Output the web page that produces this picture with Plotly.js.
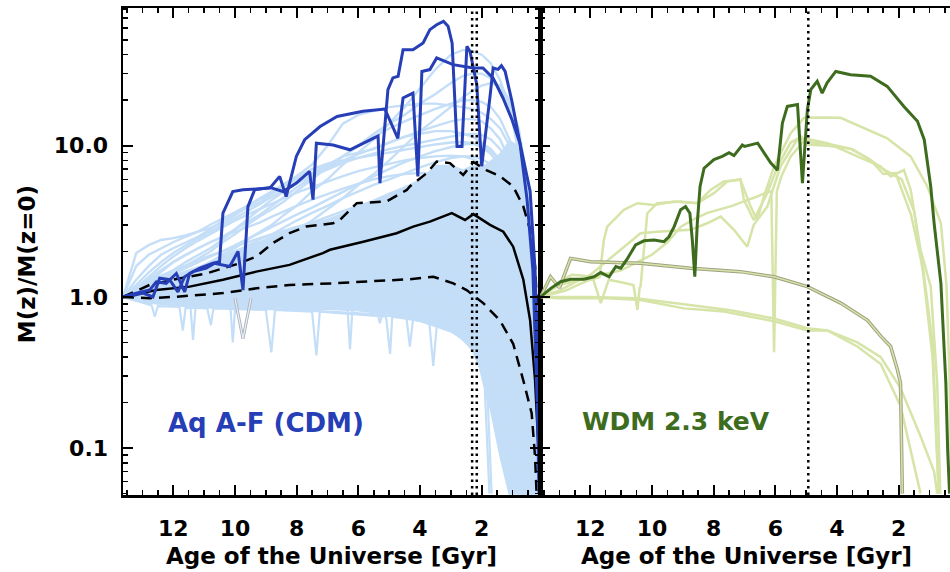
<!DOCTYPE html>
<html><head><meta charset="utf-8">
<script src="https://cdn.plot.ly/plotly-3.0.1.min.js"></script>
<style>html,body{margin:0;padding:0;background:#fff}</style>
</head><body>
<div id="chart" style="width:950px;height:572px"></div>
<script>
// ---------- CDM panel (Aq A-F) ----------
const AGE = [13.63,13.2,12.8,12.4,12.0,11.6,11.2,10.8,10.4,10.0,9.6,9.2,8.8,8.4,8.0,7.5,7.0,6.5,6.0,5.5,5.0,4.5,4.0,3.5,3.0,2.6,2.3,2.0,1.7,1.4,1.1,0.8,0.5,0.3,0.11];
const BAND_UP = [1.0,1.12,1.2,1.3,1.4,1.5,1.6,1.7,1.85,2.0,2.15,2.3,2.5,2.7,2.9,3.1,3.3,3.6,4.0,4.4,4.9,5.4,6.0,7.5,7.5,7.0,7.5,7.2,8.0,9.0,11.0,10.0,5.0,1.5,0.05];
const BAND_LO = [1.0,0.93,0.9,0.88,0.87,0.86,0.86,0.85,0.85,0.85,0.84,0.84,0.84,0.83,0.83,0.82,0.82,0.81,0.8,0.78,0.76,0.72,0.68,0.63,0.58,0.52,0.45,0.33,0.18,0.09,0.05,0.05,0.05,0.05,0.05];
const CDM_LIGHT = [
  [1.0,1.05,1.1,1.2,1.3,1.4,1.55,1.7,1.9,2.1,2.4,2.7,3.0,3.5,4.0,5.0,6.0,7.5,9,11,14,18,24,32,40,43,42,40,35,27,18,9,3,0.5,0.05],
  [1.0,1.05,1.15,1.3,1.45,1.6,1.8,2.0,2.3,2.6,3.0,3.4,3.8,4.3,5.0,6.0,7.2,8.5,10,12,14,16,19,22,26,29,30,30,28,24,19,12,5,1.2,0.05],
  [1.0,1.1,1.25,1.45,1.7,1.9,2.1,2.3,2.5,2.8,3.1,3.5,4.0,4.6,5.3,6.2,7.3,8.6,10,11.5,13,14.5,16,17.5,19,20,20,19.5,18,15,11,6.5,2.5,0.6,0.05],
  [1.0,1.95,2.2,2.38,2.45,2.55,2.7,2.85,3.1,3.5,3.9,4.2,4.8,5.4,6.0,6.6,7.5,8.5,9.0,9.5,10.5,11.5,12,12.5,12.5,12,11.5,10.5,9.5,8,6,4,1.8,0.5,0.05],
  [1.0,1.3,1.6,1.9,2.1,2.3,2.5,2.8,3.2,3.6,4.0,4.5,5.0,5.6,6.3,7.5,10,14,16,17,18,18.5,19,19,18.5,18,17.5,16.5,15,13,10,6,2.5,0.7,0.05],
  [1.0,1.05,1.1,1.2,1.3,1.4,1.5,1.65,1.8,2.0,2.2,2.4,2.6,2.9,3.2,3.6,4.0,4.5,5.0,5.5,6.0,6.6,7.2,7.8,8.3,8.5,8.5,8.2,7.5,6.5,5.0,3.2,1.5,0.4,0.05],
  [1.0,1.08,1.15,1.25,1.35,1.45,1.55,1.7,1.85,2.0,2.15,2.3,2.5,2.7,2.9,3.1,3.4,3.7,4.0,4.3,4.6,4.9,5.2,5.4,5.5,5.4,5.2,4.8,4.2,3.5,2.6,1.6,0.7,0.2,0.05],
  [1.0,1.02,1.05,1.08,1.1,1.12,1.15,1.18,1.2,1.22,1.25,1.28,1.3,1.32,1.35,1.38,1.4,1.42,1.45,1.47,1.5,1.5,1.5,1.48,1.4,1.3,1.2,1.0,0.75,0.5,0.3,0.15,0.07,0.05,0.05],
  [1.0,0.95,0.92,0.9,0.88,0.87,0.86,0.85,0.85,0.84,0.84,0.83,0.83,0.82,0.82,0.81,0.8,0.79,0.78,0.77,0.75,0.73,0.7,0.66,0.6,0.52,0.45,0.32,0.18,0.09,0.05,0.05,0.05,0.05,0.05],
  [1.0,1.1,1.2,1.35,1.5,1.7,1.9,2.1,2.4,2.8,3.3,3.8,4.4,5.0,5.6,6.4,7.2,8.0,8.8,9.6,10.5,11.5,12.5,13.5,14.5,15,15,14.5,13,11,8,5,2,0.5,0.05],
  [1.0,1.08,1.18,1.3,1.42,1.55,1.7,1.85,2.0,2.2,2.4,2.65,2.9,3.2,3.5,3.9,4.4,5.0,5.6,6.3,7.0,7.8,8.5,9.2,9.8,10.2,10.3,10,9.2,8,6,3.8,1.7,0.4,0.05],
  [1.0,1.1,1.3,1.5,1.7,1.9,2.1,2.3,2.5,2.7,2.9,3.1,3.4,3.7,4.0,4.4,4.8,5.2,5.6,6.0,6.3,6.5,6.6,6.5,6.3,6.0,5.7,5.3,4.6,3.8,2.8,1.7,0.8,0.2,0.05],
  [1.0,1.05,1.1,1.15,1.2,1.25,1.3,1.36,1.42,1.5,1.58,1.66,1.75,1.85,1.95,2.05,2.2,2.35,2.5,2.65,2.8,2.95,3.1,3.25,3.4,3.45,3.45,3.3,3.0,2.5,1.9,1.2,0.55,0.15,0.05],
  [1.0,1.02,1.05,1.08,1.1,1.14,1.18,1.22,1.26,1.3,1.35,1.4,1.46,1.52,1.58,1.64,1.7,1.78,1.86,1.95,2.05,2.15,2.25,2.35,2.4,2.4,2.35,2.2,1.9,1.5,1.1,0.65,0.3,0.1,0.05],
  [1.0,0.98,0.99,1.0,1.01,1.02,1.03,1.04,1.05,1.06,1.07,1.08,1.09,1.1,1.11,1.12,1.13,1.14,1.15,1.15,1.15,1.14,1.12,1.08,1.0,0.9,0.8,0.62,0.42,0.25,0.13,0.07,0.05,0.05,0.05],
  [1.0,1.15,1.35,1.6,1.85,2.1,2.35,2.6,2.9,3.2,3.5,3.8,4.1,4.5,4.9,5.3,5.8,6.3,6.8,7.2,7.6,8.0,8.3,8.5,8.6,8.5,8.2,7.6,6.8,5.6,4.2,2.6,1.1,0.3,0.05],
  [1.0,1.12,1.25,1.38,1.5,1.62,1.75,1.88,2.0,2.15,2.3,2.45,2.6,2.75,2.9,3.05,3.2,3.35,3.5,3.65,3.8,3.95,4.1,4.2,4.25,4.2,4.1,3.8,3.3,2.7,2.0,1.2,0.5,0.12,0.05],
  [1.0,1.03,1.07,1.12,1.18,1.25,1.33,1.42,1.52,1.65,1.8,2.0,2.2,2.5,2.8,3.2,3.8,4.5,5.5,6.5,8,10,12.5,15,18,21,23,25,26,25,20,13,5.5,1.3,0.05],
  [1.0,1.2,1.45,1.7,1.95,2.2,2.45,2.7,3.0,3.3,3.7,4.1,4.6,5.1,5.7,6.3,7.0,7.7,8.3,8.9,9.5,10,10.5,11,11.5,11.8,12,11.8,11,9.5,7.5,5,2.2,0.6,0.05],
  [1.0,1.1,1.2,1.3,1.38,1.46,1.54,1.62,1.7,1.78,1.86,1.94,2.0,2.06,2.12,2.18,2.24,2.3,2.36,2.42,2.48,2.54,2.6,2.65,2.68,2.68,2.65,2.55,2.3,1.9,1.4,0.8,0.35,0.1,0.05],
  [1.0,1.6,1.9,2.1,2.3,2.5,2.7,3.0,3.3,3.6,4.0,4.4,4.9,5.5,6.2,7.0,7.6,8.0,8.3,8.6,9.0,9.4,9.8,10.2,10.5,10.6,10.4,9.8,8.8,7.4,5.5,3.4,1.4,0.35,0.05],
  [1.0,0.97,0.95,0.94,0.93,0.93,0.92,0.92,0.92,0.91,0.91,0.91,0.9,0.9,0.9,0.89,0.89,0.88,0.87,0.86,0.85,0.83,0.8,0.76,0.7,0.62,0.55,0.42,0.27,0.14,0.07,0.05,0.05,0.05,0.05]
];
const S1_AGE = [13.63,12.7,12.6,12.5,11.8,11.69,11.6,10.9,10.78,10.7,9.0,8.82,8.7,7.5,7.36,7.25,5.1,4.97,4.9,3.7,3.57,3.45,2.6,2.3,2.0,1.8,1.68];
const S1 = [1.0,0.88,0.74,0.87,0.86,0.6,0.85,0.84,0.65,0.84,0.82,0.43,0.82,0.8,0.41,0.8,0.74,0.42,0.74,0.68,0.35,0.67,0.58,0.5,0.35,0.2,0.05];
const S2_AGE = [13.63,12.0,11.45,11.36,11.27,10.15,10.07,9.99,8.0,6.35,6.27,6.19,5.4,5.3,5.2,4.45,4.33,4.21,3.0,2.5,2.2,1.9,1.75];
const S2 = [1.0,0.92,0.9,0.52,0.9,0.88,0.5,0.88,0.86,0.84,0.45,0.84,0.8,0.67,0.8,0.76,0.47,0.76,0.7,0.6,0.45,0.25,0.05];
const GRAYV_AGE = [10.0,9.74,9.48];
const GRAYV = [0.98,0.53,0.98];

const MED_AGE = [13.63,12.55,11.47,10.39,9.31,8.23,7.15,6.92,5.84,4.76,4.22,3.68,2.97,2.54,2.27,1.73,1.3,0.98,0.65,0.43,0.27,0.16,0.11];
const MED = [1.0,1.11,1.17,1.3,1.47,1.63,1.95,2.05,2.32,2.64,2.92,3.15,3.58,3.23,3.53,3.0,2.7,2.15,1.3,0.7,0.28,0.1,0.046];
const UP_AGE = [13.63,12.77,12.0,10.93,9.85,9.31,8.77,8.23,7.69,6.82,6.6,6.05,5.08,4.43,4.33,3.78,3.46,3.03,2.6,2.27,1.85,1.41,0.98,0.65,0.43,0.27,0.16,0.11];
const UP = [1.0,1.2,1.3,1.43,1.67,1.85,2.27,2.64,2.92,3.07,3.23,4.17,4.28,5.1,5.38,6.6,7.87,7.68,6.4,7.8,6.9,6.3,5.38,3.96,2.78,1.59,0.6,0.12];
const LO_AGE = [13.63,12.77,12.0,10.39,9.31,8.23,6.82,4.97,4.33,3.57,2.92,2.49,1.95,1.41,0.98,0.65,0.38,0.27,0.22];
const LO = [1.0,0.98,1.0,1.06,1.14,1.2,1.23,1.3,1.31,1.36,1.23,1.11,0.91,0.7,0.49,0.28,0.17,0.087,0.05];

const HALO_U_AGE = [13.63,13.2,12.77,12.55,12.23,11.9,11.63,11.47,11.14,10.71,10.5,10.39,10.07,9.74,9.31,8.87,8.55,8.34,8.01,7.74,7.24,6.69,5.85,5.14,4.72,4.55,4.23,4.07,3.94,3.68,3.46,2.93,2.28,1.96,1.63,1.31,1.02,0.76,0.43,0.27,0.17,0.11];
const HALO_U = [1.0,1.06,1.11,1.26,1.23,1.43,1.08,1.43,1.55,1.67,1.71,3.58,4.98,5.12,5.17,5.24,6.27,4.61,8.5,10.96,13.4,15.6,16.9,17.5,11.2,20.7,22.3,6.26,31,31.9,38.1,34.4,32.7,32.7,28,20.7,14.9,10.4,5,1.5,0.3,0.05];
const HALO_L_AGE = [13.63,13.41,12.98,12.66,12.44,12.12,11.85,11.63,11.36,10.93,10.66,10.17,9.9,9.74,9.58,9.36,8.87,8.44,8.01,7.58,7.47,7.36,6.82,6.27,5.52,5.36,5.3,5.04,4.88,4.71,4.55,4.23,3.9,3.68,3.46,3.24,3.09,2.96,2.8,2.64,2.48,2.38,2.16,2.0,1.73,1.63,1.47,1.36,1.24,1.02,0.76,0.53,0.34,0.2,0.14];
const HALO_L = [1.0,1.01,1.06,1.0,1.33,1.3,1.08,1.36,1.47,1.55,1.67,1.59,2.0,1.11,3.96,5.12,5.3,4.98,5.66,6.77,4.4,10.4,10.1,9.4,11.2,11.6,5.66,23.5,28.1,28.8,43.2,43.2,47.9,58.6,63.2,66.5,61.7,47.9,9.9,9.9,45.5,42,25.4,7.3,21.2,32.7,32,33.8,31,19.7,10.4,4.4,1.5,0.2,0.05];
const DOTTED_CDM = [2.31, 2.16];

// ---------- WDM panel (2.3 keV) ----------
const WDM_DARK_AGE = [13.61,13.28,12.96,12.64,12.2,11.88,11.66,11.39,11.17,11.01,10.79,10.53,10.26,9.93,9.61,9.45,9.28,9.07,8.91,8.77,8.69,8.61,8.53,8.44,8.31,7.99,7.72,7.5,7.34,7.07,7.0,6.57,6.15,5.93,5.77,5.61,5.28,5.12,4.96,4.85,4.64,4.48,4.32,4.04,3.56,2.91,2.37,1.83,1.39,1.17,0.96,0.85,0.63,0.47,0.41,0.35];
const WDM_DARK = [1.0,1.14,1.26,1.31,1.31,1.36,1.45,1.36,1.59,1.55,1.8,2.21,2.35,2.38,2.32,2.5,2.92,3.77,3.96,3.58,2.38,1.36,3.07,5.38,7.1,8.1,8.5,9.0,8.6,10.1,9.9,10.4,7.7,6.9,14.1,18.2,18.7,5.66,17.3,23.5,26.7,22.3,26.1,31,29.5,28.8,24.7,18.2,14.5,10.96,5.38,3.07,1.23,0.27,0.097,0.05];
const WDM_LIGHT_AGE = [
  [13.61,13.2,12.8,12.4,12.0,11.7,11.56,11.45,10.91,10.47,9.93,9.29,8.53,8.1,7.67,7.13,6.8,6.59,6.37,6.04,5.5,5.07,4.5,3.88,3.01,2.37,1.61,1.07,0.63,0.45,0.35,0.3],
  [13.61,13.0,12.5,12.0,11.5,10.91,10.37,9.83,8.75,8.21,7.77,7.34,6.91,6.7,6.26,5.83,5.29,5.07,4.31,3.34,2.59,2.26,1.83,1.61,1.29,0.96,0.75,0.65],
  [13.61,13.2,12.9,12.6,12.2,11.9,11.66,11.4,11.0,10.6,10.47,10.4,10.37,10.15,9.83,9.07,8.53,7.99,7.56,7.13,7.02,6.7,6.26,5.9,5.5,5.15,5.0,4.3,3.5,2.9,2.5,2.1,1.6,1.2,0.9,0.7],
  [13.61,13.0,12.0,11.0,10.0,9.5,9.07,8.6,8.2,7.8,7.4,7.0,6.6,6.3,6.13,6.04,5.95,5.8,5.5,5.2,5.07,4.8,4.3,3.6,3.0,2.5,2.2,1.9,1.5,1.2,0.9,0.7],
  [13.61,13.07,11.45,10.37,8.96,7.67,6.8,6.04,4.96,4.31,3.34,2.58,1.94,1.29],
  [13.61,12.0,10.5,9.0,7.5,6.04,4.96,4.31,3.34,2.58,1.94,1.29,0.85,0.75]
];
const WDM_LIGHT = [
  [1.0,1.05,1.1,1.2,1.3,1.35,2.38,2.92,3.77,4.17,4.06,4.28,4.17,5.1,5.8,5.95,3.96,3.23,4.6,7.3,12.1,15.3,15.4,15.3,12.7,11.2,8.5,5.38,3.07,1.2,0.3,0.05],
  [1.0,1.1,1.25,1.4,1.7,2.15,2.64,2.7,2.78,3.07,3.4,2.78,2.15,3.0,3.96,7.3,10.96,11.2,10.4,8.5,7.3,6.27,6.9,5.1,2.05,1.17,0.27,0.05],
  [1.0,1.15,1.3,1.4,1.38,1.3,0.91,1.3,1.25,1.2,0.82,1.15,1.17,3.58,4.17,4.28,4.17,4.86,5.8,6.0,4.4,3.23,4.86,7.5,10.5,11.5,10.2,10.0,9.5,8.0,6.5,6.6,3.5,1.5,0.5,0.05],
  [1.0,1.2,1.35,1.5,1.9,2.3,2.9,3.3,3.6,3.8,4.0,4.3,4.6,4.9,5.0,0.43,5.0,6.3,8.5,10.0,10.8,10.5,10.3,9.6,8.3,7.0,6.5,6.0,3.7,1.4,0.4,0.05],
  [1.0,0.98,0.98,0.955,0.84,0.8,0.74,0.69,0.6,0.6,0.47,0.36,0.19,0.05],
  [1.0,1.0,0.98,0.9,0.82,0.72,0.62,0.6,0.5,0.4,0.25,0.12,0.07,0.05]
];
const WDM_GRAY_AGE = [13.61,13.29,13.0,12.64,11.99,10.37,8.75,7.13,6.04,4.96,3.88,3.01,2.58,2.26,2.04,1.94,1.88];
const WDM_GRAY = [1.0,1.36,1.15,1.8,1.71,1.67,1.55,1.47,1.36,1.17,0.91,0.7,0.55,0.47,0.33,0.27,0.05];
const DOTTED_WDM = [4.93];

const YTICKS = [0.1, 1, 10];
const YTICKTEXT = ['0.1', '1.0', '10.0'];
const YMINOR = [0.05,0.06,0.07,0.08,0.09,0.2,0.3,0.4,0.5,0.6,0.7,0.8,0.9,2,3,4,5,6,7,8,9,20,30,40,50,60,70,80];

// ---------- styles ----------
const LIGHT_BLUE = 'rgb(196,222,248)';
const DARK_BLUE = 'rgb(38,62,182)';
const LIGHT_GREEN = 'rgb(214,228,168)';
const DARK_GREEN = 'rgb(62,108,30)';
const FONT = 'DejaVu Sans';

function ln(x, y, color, width, right, dash) {
  return {type:'scatter', mode:'lines', x:x, y:y,
    xaxis: right ? 'x2' : 'x', yaxis: right ? 'y2' : 'y',
    line:{color:color, width:width, dash: dash || 'solid'},
    hoverinfo:'skip', showlegend:false};
}

const traces = [];
traces.push({type:'scatter', mode:'lines', x: AGE.concat(AGE.slice().reverse()),
  y: BAND_UP.concat(BAND_LO.slice().reverse()), fill:'toself', fillcolor:LIGHT_BLUE,
  line:{width:0, color:LIGHT_BLUE}, xaxis:'x', yaxis:'y', hoverinfo:'skip', showlegend:false});
CDM_LIGHT.forEach(v => traces.push(ln(AGE, v, LIGHT_BLUE, 2.4, false)));
traces.push(ln(S1_AGE, S1, LIGHT_BLUE, 2.2, false));
traces.push(ln(S2_AGE, S2, LIGHT_BLUE, 2.2, false));
traces.push(ln(GRAYV_AGE, GRAYV, 'rgb(170,178,188)', 3, false));
traces.push(ln(GRAYV_AGE, GRAYV, 'rgb(235,240,246)', 1.2, false));
traces.push(ln(UP_AGE, UP, '#000', 2.5, false, '11px,7px'));
traces.push(ln(LO_AGE, LO, '#000', 2.5, false, '11px,7px'));
traces.push(ln(MED_AGE, MED, '#000', 2.5, false));
traces.push(ln(HALO_U_AGE, HALO_U, DARK_BLUE, 3, false));
traces.push(ln(HALO_L_AGE, HALO_L, DARK_BLUE, 3, false));

WDM_LIGHT.forEach((v, i) => traces.push(ln(WDM_LIGHT_AGE[i], v, LIGHT_GREEN, 2.5, true)));
traces.push(ln(WDM_GRAY_AGE, WDM_GRAY, 'rgb(160,160,130)', 3.5, true));
traces.push(ln(WDM_GRAY_AGE, WDM_GRAY, LIGHT_GREEN, 1.5, true));
traces.push(ln(WDM_DARK_AGE, WDM_DARK, DARK_GREEN, 3, true));

const D = 417/827;
const tickFont = {family:FONT, size:22, color:'#000', weight:'bold'};
function xax(domain, range) {
  return {domain:domain, range:range, tick0:0, dtick:2, ticks:'inside', ticklen:10, tickwidth:2,
    tickcolor:'#000', showline:true, linewidth:2.5, linecolor:'#000', mirror:'ticks',
    showgrid:false, zeroline:false, tickfont:tickFont, ticklabelstandoff:12,
    minor:{tick0:0, dtick:0.5, ticks:'inside', ticklen:5, tickwidth:1.5, tickcolor:'#000', showgrid:false}};
}
function yax(mirror, labels, anchor) {
  return {type:'log', range:[-1.31, 1.911], anchor:anchor, tickmode:'array', tickvals:YTICKS, ticktext:YTICKTEXT,
    showticklabels:labels, ticks:'inside', ticklen:10, tickwidth:2, tickcolor:'#000',
    showline:true, linewidth:2.5, linecolor:'#000', mirror:mirror, showgrid:false, zeroline:false,
    tickfont:tickFont, ticklabelstandoff:8,
    minor:{tickvals:YMINOR, ticks:'inside', ticklen:5, tickwidth:1.5, tickcolor:'#000', showgrid:false}};
}

const shapes = [];
DOTTED_CDM.forEach(a => shapes.push({type:'line', xref:'x', yref:'paper', x0:a, x1:a, y0:0, y1:1,
  line:{color:'#000', width:2.5, dash:'2.5px,4px'}, layer:'above'}));
DOTTED_WDM.forEach(a => shapes.push({type:'line', xref:'x2', yref:'paper', x0:a, x1:a, y0:0, y1:1,
  line:{color:'#000', width:2.5, dash:'2.5px,4px'}, layer:'above'}));

const titleFont = {family:FONT, size:23, color:'#000', weight:'bold'};
const layout = {
  width:950, height:572, margin:{l:123, r:0, t:8, b:77},
  paper_bgcolor:'#fff', plot_bgcolor:'#fff', showlegend:false,
  font:{family:FONT, color:'#000'},
  xaxis: Object.assign(xax([0, D], [13.63, 0.11]), {anchor:'y'}),
  xaxis2: Object.assign(xax([D, 1], [13.63, 0.335]), {anchor:'y2'}),
  yaxis: yax('ticks', true, 'x'),
  yaxis2: yax(false, false, 'x2'),
  shapes: shapes,
  annotations: [
    {text:'Age of the Universe [Gyr]', xref:'paper', yref:'paper', x:D/2, y:-0.125, xanchor:'center', yanchor:'middle', showarrow:false, font:titleFont},
    {text:'Age of the Universe [Gyr]', xref:'paper', yref:'paper', x:(D+1)/2 + 0.002, y:-0.125, xanchor:'center', yanchor:'middle', showarrow:false, font:titleFont},
    {text:'M(z)/M(z=0)', xref:'paper', yref:'paper', x:-0.116, y:0.474, xanchor:'center', yanchor:'middle', textangle:-90, showarrow:false, font:titleFont},
    {text:'Aq A-F (CDM)', xref:'paper', yref:'paper', x:0.1735, y:0.148, xanchor:'center', yanchor:'middle', showarrow:false, font:{family:FONT, size:26, color:DARK_BLUE, weight:'bold'}},
    {text:'WDM 2.3 keV', xref:'paper', yref:'paper', x:0.6687, y:0.150, xanchor:'center', yanchor:'middle', showarrow:false, font:{family:FONT, size:25, color:DARK_GREEN, weight:'bold'}}
  ]
};
Plotly.newPlot('chart', traces, layout, {staticPlot:true, displayModeBar:false});
</script>
</body></html>
